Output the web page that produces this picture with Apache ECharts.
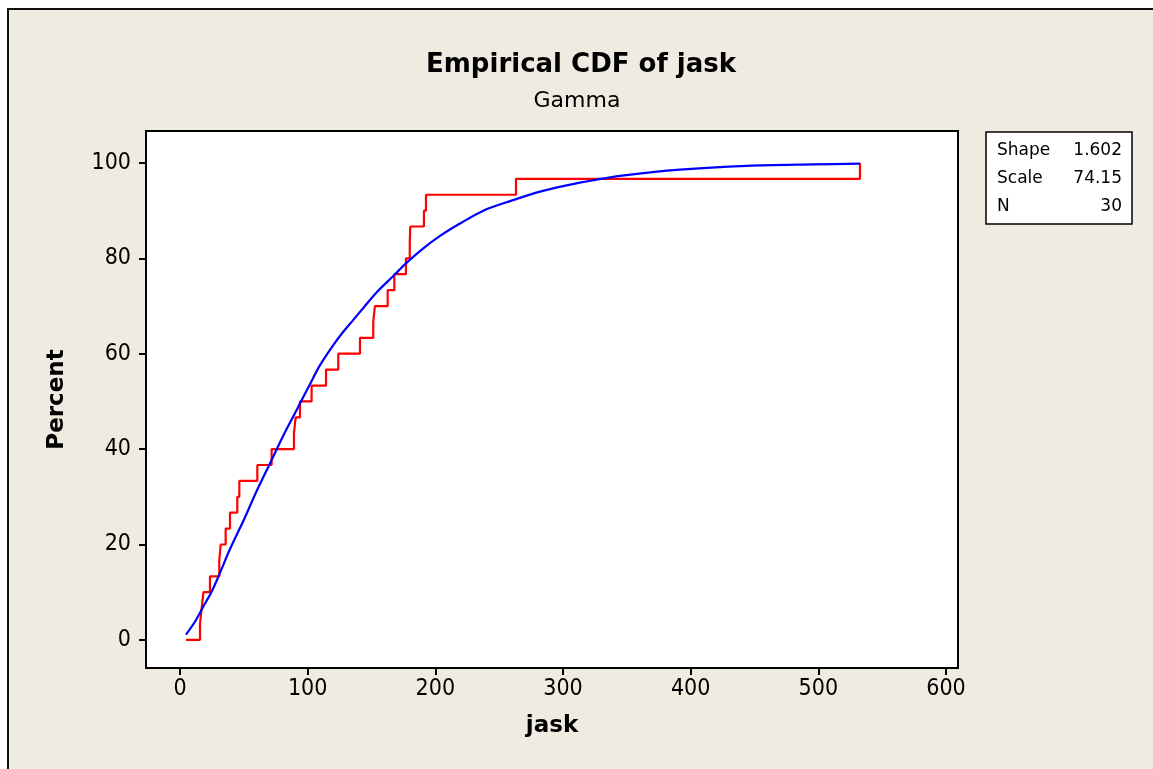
<!DOCTYPE html>
<html>
<head>
<meta charset="utf-8">
<script src="https://cdn.jsdelivr.net/npm/echarts@6.0.0/dist/echarts.min.js"></script>
<style>
  html, body { margin: 0; padding: 0; background: #ffffff; }
  .cdf__wrapper { position: relative; width: 1153px; height: 769px; overflow: hidden; }
  .cdf__paper {
    position: absolute; left: 7px; top: 8px; width: 1200px; height: 800px;
    background: #efebe1; border-left: 2px solid #111; border-top: 2px solid #111;
  }
  .cdf__chart { position: absolute; left: 0; top: 0; width: 1153px; height: 769px; }
</style>
</head>
<body>
<div class="cdf__wrapper">
  <div class="cdf__paper"></div>
  <div class="cdf__chart" id="cdf_show"></div>
</div>
<script>
// empirical CDF: sorted jask values and their cumulative percent
var ecdfStart = 4.7
var ecdfX = [15.7, 17.0, 18.4, 23.5, 30.8, 31.9, 35.8, 39.2, 44.9, 46.5,
  60.6, 71.8, 89.3, 90.6, 94.0, 103.1, 114.4, 124.0, 141.0, 151.4,
  152.7, 162.7, 167.9, 177.0, 180.0, 180.4, 191.1, 192.7, 263.2, 532.6]
var ecdfPct = [3.33, 6.67, 10, 13.33, 16.67, 20, 23.33, 26.67, 30, 33.33,
  36.67, 40, 43.33, 46.67, 50, 53.33, 56.67, 60, 63.33, 66.67,
  70, 73.33, 76.67, 80, 83.33, 86.67, 90, 93.33, 96.67, 100]

// fitted gamma CDF
var fitX = [4.7, 11.7, 18.3, 24.8, 31.3, 37.8, 44.4, 50.1, 60.1, 70.5,
  80.9, 91.4, 101.8, 109.7, 120.1, 127.9, 135.8, 143.6, 154.1, 167.1,
  177.6, 190.6, 203.7, 219.3, 237.6, 258.5, 282, 302.9, 326.4, 344.6,
  391.6, 443.9, 496, 532.6]
var fitPct = [1.1, 3.8, 7.0, 10.1, 14.0, 18.2, 22.0, 25.2, 31.2, 37.0,
  42.8, 48.2, 53.6, 57.6, 61.8, 64.6, 67.1, 69.6, 72.9, 76.3,
  79.1, 82.1, 84.7, 87.3, 90.0, 92.0, 94.0, 95.3, 96.5, 97.3,
  98.6, 99.4, 99.7, 99.85]

var xTicks = [0, 100, 200, 300, 400, 500, 600]
var yTicks = [0, 20, 40, 60, 80, 100]
var statNames = ['Shape', 'Scale', 'N']
var statValues = ['1.602', '74.15', '30']

var FONT = 'DejaVu Sans'
var TICK_FONT = "'DejaVu Sans Condensed', 'Liberation Sans', sans-serif"

var chartDom = document.getElementById('cdf_show')
var myChart = echarts.init(chartDom, null, { renderer: 'canvas' })
var option

var ecdfData = [[ecdfStart, 0]]
ecdfX.forEach(function (x, i) { ecdfData.push([x, ecdfPct[i]]) })
var fitData = fitX.map(function (x, i) { return [x, fitPct[i]] })

var statGraphics = [{
  type: 'rect',
  shape: { x: 986, y: 132, width: 146, height: 92 },
  style: { fill: '#ffffff', stroke: '#000000', lineWidth: 1.5 }
}]
statNames.forEach(function (name, i) {
  statGraphics.push({
    type: 'text', x: 997, y: 151 + i * 28,
    style: { text: name, fill: '#000', font: '17px ' + FONT, textAlign: 'left', textVerticalAlign: 'middle' }
  })
  statGraphics.push({
    type: 'text', x: 1122, y: 151 + i * 28,
    style: { text: statValues[i], fill: '#000', font: '17px ' + FONT, textAlign: 'right', textVerticalAlign: 'middle' }
  })
})

option = {
  animation: false,
  backgroundColor: 'transparent',
  textStyle: { fontFamily: FONT },
  title: [
    {
      text: 'Empirical CDF of jask',
      left: 576, top: 47, textAlign: 'center',
      textStyle: { fontFamily: FONT, fontSize: 26, fontWeight: 'bold', color: '#000' }
    },
    {
      text: 'Gamma',
      left: 572, top: 85, textAlign: 'center',
      textStyle: { fontFamily: FONT, fontSize: 22, fontWeight: 'normal', color: '#000' }
    }
  ],
  grid: {
    left: 146, right: 195, top: 131, bottom: 101,
    show: true, backgroundColor: '#ffffff', borderColor: '#000000', borderWidth: 2
  },
  xAxis: {
    type: 'value',
    min: -26.6, max: 609.4,
    name: 'jask', nameLocation: 'middle', nameGap: 47,
    nameTextStyle: { fontFamily: FONT, fontSize: 23, fontWeight: 'bold', color: '#000' },
    axisLine: { show: true, onZero: false, lineStyle: { color: '#000', width: 2 } },
    axisTick: { show: true, length: 7, lineStyle: { color: '#000', width: 2 }, customValues: xTicks },
    axisLabel: { customValues: xTicks, margin: 10, fontSize: 23, color: '#000', fontFamily: TICK_FONT },
    splitLine: { show: false }
  },
  yAxis: {
    type: 'value',
    min: -5.9, max: 106.7,
    name: 'Percent', nameLocation: 'middle', nameGap: 77, nameRotate: 90,
    nameTextStyle: { fontFamily: FONT, fontSize: 23, fontWeight: 'bold', color: '#000' },
    axisLine: { show: true, onZero: false, lineStyle: { color: '#000', width: 2 } },
    axisTick: { show: true, length: 7, lineStyle: { color: '#000', width: 2 }, customValues: yTicks },
    axisLabel: { customValues: yTicks, margin: 15, fontSize: 23, color: '#000', fontFamily: TICK_FONT },
    splitLine: { show: false }
  },
  graphic: statGraphics,
  series: [
    {
      name: 'ECDF',
      type: 'line',
      step: 'end',
      data: ecdfData,
      showSymbol: false,
      lineStyle: { color: '#ff0000', width: 2.2 },
      z: 3
    },
    {
      name: 'Gamma fit',
      type: 'line',
      smooth: 0.3,
      data: fitData,
      showSymbol: false,
      lineStyle: { color: '#0000ff', width: 2.2 },
      z: 4
    }
  ]
}

option && myChart.setOption(option)
</script>
</body>
</html>
